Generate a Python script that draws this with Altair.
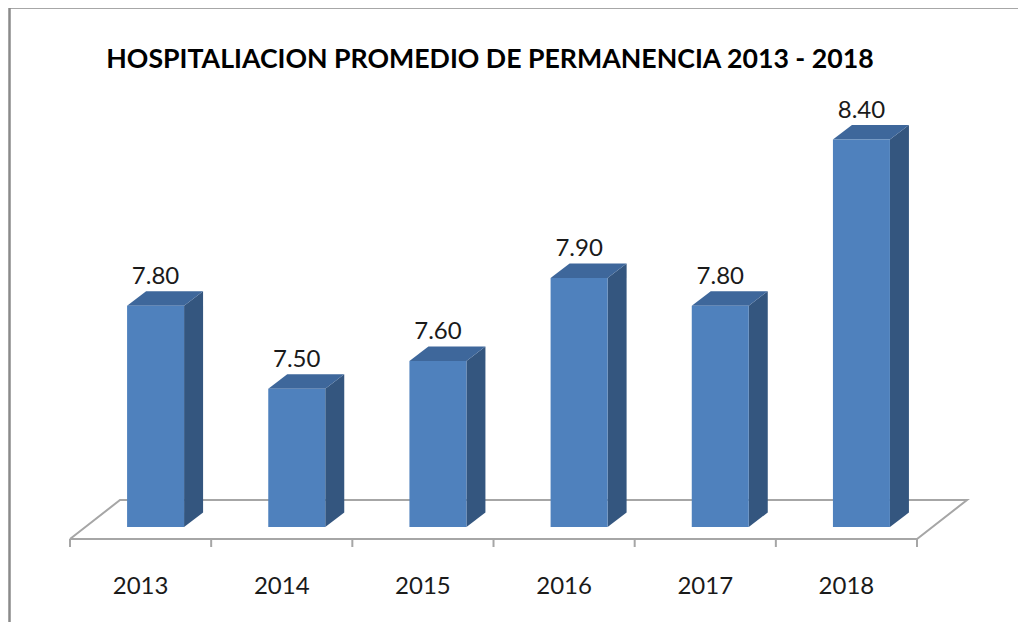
import altair as alt
import pandas as pd

# ---- data ----
years = ["2013", "2014", "2015", "2016", "2017", "2018"]
values = [7.80, 7.50, 7.60, 7.90, 7.80, 8.40]
title_text = "HOSPITALIACION PROMEDIO DE PERMANENCIA 2013 - 2018"
axis_min = 7.0

# ---- layout / style constants ----
W, H = 1010, 614
PX_CAT = 141.17      # pixels per category on the front plane
X0_PX = 62.0         # plot x of the floor's front-left corner
PX_VAL = 276.7       # pixels per value unit
BASE_PX = 519.0      # plot y of axis_min at the bars' front face

x_dom = [-X0_PX / PX_CAT, (W - X0_PX) / PX_CAT]
y_dom = [axis_min - (H - BASE_PX) / PX_VAL, axis_min + BASE_PX / PX_VAL]

HALF_W = 28.5 / PX_CAT
BAR_SHIFT = 15.0 / PX_CAT
DEPTH_X = 19.0 / PX_CAT
DEPTH_Y = 14.5 / PX_VAL
FLOOR_FRONT = axis_min - 12.0 / PX_VAL
FLOOR_BACK = axis_min + 27.0 / PX_VAL
FLOOR_DX = 50.0 / PX_CAT
TICK_LEN = 8.0 / PX_VAL
LABEL_Y = axis_min - 67.0 / PX_VAL

FRONT_C = "#4F81BD"
SIDE_C = "#34567F"
TOP_C = "#3E679B"
GRID_C = "#A6A6A6"
FONT = "Lato"

xs = alt.Scale(domain=x_dom, nice=False, zero=False)
ys = alt.Scale(domain=y_dom, nice=False, zero=False)

# ---- derived tables ----
front_rows, side_rows, top_rows, lab_rows = [], [], [], []
for i, (yr, v) in enumerate(zip(years, values)):
    c = i + 0.5 + BAR_SHIFT
    L, R = c - HALF_W, c + HALF_W
    front_rows.append({"year": yr, "value": v, "x": L, "x2": R, "y": axis_min, "y2": v, "xc": c})
    side_rows += [
        {"year": yr, "x": R, "y": v, "y2": axis_min},
        {"year": yr, "x": R + DEPTH_X, "y": v + DEPTH_Y, "y2": axis_min + DEPTH_Y},
    ]
    top_rows += [
        {"year": yr, "y": v, "x": L, "x2": R},
        {"year": yr, "y": v + DEPTH_Y, "x": L + DEPTH_X, "x2": R + DEPTH_X},
    ]
    lab_rows.append({"year": yr, "x": i + 0.5, "y": LABEL_Y})

n = len(years)
floor_df = pd.DataFrame({
    "x": [0, n, n + FLOOR_DX, FLOOR_DX, 0],
    "y": [FLOOR_FRONT, FLOOR_FRONT, FLOOR_BACK, FLOOR_BACK, FLOOR_FRONT],
    "o": [0, 1, 2, 3, 4],
})
ticks_df = pd.DataFrame({"x": list(range(n + 1))})
ticks_df["y"] = FLOOR_FRONT
ticks_df["y2"] = FLOOR_FRONT - TICK_LEN

front_df = pd.DataFrame(front_rows)
side_df = pd.DataFrame(side_rows)
top_df = pd.DataFrame(top_rows)
lab_df = pd.DataFrame(lab_rows)
dummy = pd.DataFrame({"a": [0]})

floor = alt.Chart(floor_df).mark_line(color=GRID_C, strokeWidth=2).encode(
    x=alt.X("x:Q", scale=xs, axis=None),
    y=alt.Y("y:Q", scale=ys, axis=None),
    order="o:Q",
)
ticks = alt.Chart(ticks_df).mark_rule(color=GRID_C, strokeWidth=2).encode(
    x=alt.X("x:Q", scale=xs, axis=None),
    y=alt.Y("y:Q", scale=ys, axis=None),
    y2="y2:Q",
)
side = alt.Chart(side_df).mark_area(color=SIDE_C, opacity=1).encode(
    x=alt.X("x:Q", scale=xs, axis=None),
    y=alt.Y("y:Q", scale=ys, axis=None),
    y2="y2:Q",
    detail="year:N",
)
top = alt.Chart(top_df).mark_area(color=TOP_C, opacity=1, orient="horizontal").encode(
    y=alt.Y("y:Q", scale=ys, axis=None),
    x=alt.X("x:Q", scale=xs, axis=None),
    x2="x2:Q",
    detail="year:N",
)
front = alt.Chart(front_df).mark_rect(color=FRONT_C).encode(
    x=alt.X("x:Q", scale=xs, axis=None),
    x2="x2:Q",
    y=alt.Y("y:Q", scale=ys, axis=None),
    y2="y2:Q",
)
vlabels = alt.Chart(front_df).mark_text(
    font=FONT, fontSize=24, color="#1a1a1a", baseline="alphabetic", align="center", dy=-22
).encode(
    x=alt.X("xc:Q", scale=xs, axis=None),
    y=alt.Y("value:Q", scale=ys, axis=None),
    text=alt.Text("value:Q", format=".2f"),
)
ylabels = alt.Chart(lab_df).mark_text(
    font=FONT, fontSize=24, color="#1a1a1a", baseline="alphabetic", align="center"
).encode(
    x=alt.X("x:Q", scale=xs, axis=None),
    y=alt.Y("y:Q", scale=ys, axis=None),
    text="year:N",
)
title = alt.Chart(dummy).mark_text(
    font=FONT, fontSize=26.7, fontWeight="bold", color="#000000", baseline="alphabetic", align="center"
).encode(x=alt.value(482), y=alt.value(60), text=alt.value(title_text))

frame_top = alt.Chart(dummy).mark_rule(color="#8A8A8A", strokeWidth=2.5).encode(
    x=alt.value(1), x2=alt.value(W), y=alt.value(-0.5)
)
frame_left = alt.Chart(dummy).mark_rule(color="#8A8A8A", strokeWidth=2.5).encode(
    x=alt.value(1.5), y=alt.value(-1), y2=alt.value(H)
)

chart = alt.layer(
    floor, ticks, side, top, front, vlabels, ylabels, title, frame_top, frame_left
).properties(
    width=W, height=H, autosize=alt.AutoSizeParams(type="none"), padding=0
).configure_view(stroke=None)

chart.save("out.html", embed_options={"renderer": "svg", "actions": False})
